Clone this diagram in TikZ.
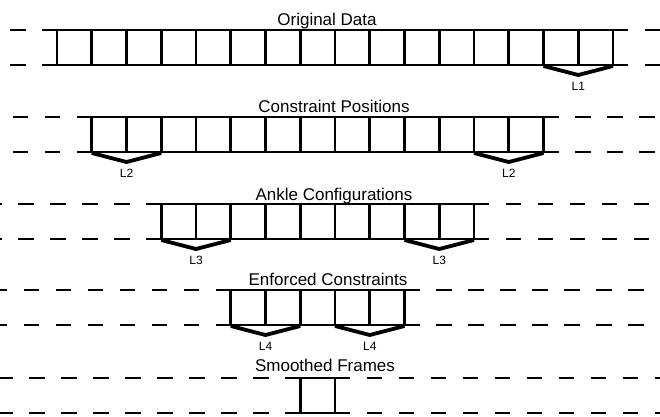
\documentclass[tikz,border=0pt]{standalone}
\usepackage{fontspec}
\setmainfont{Liberation Sans}
\newcommand\cellrow[4]{%
  \pgfmathsetmacro\xa{57+34.75*#2}%
  \pgfmathsetmacro\xb{57+34.75*#3}%
  \pgfmathsetmacro\yb{#1+35}%
  \coordinate (#4-tl) at (\xa-15,#1);
  \coordinate (#4-tr) at (\xb+15,#1);
  \coordinate (#4-bl) at (\xa-15,\yb);
  \coordinate (#4-br) at (\xb+15,\yb);
  \coordinate (#4-tlf) at (-20,#1);
  \coordinate (#4-trf) at (680,#1);
  \coordinate (#4-blf) at (-20,\yb);
  \coordinate (#4-brf) at (680,\yb);
  \draw[hline] (#4-tl) -- (#4-tr);
  \draw[hline] (#4-bl) -- (#4-br);
  \draw[dashline] (#4-tl) -- (#4-tlf);
  \draw[dashline] (#4-tr) -- (#4-trf);
  \draw[dashline] (#4-bl) -- (#4-blf);
  \draw[dashline] (#4-br) -- (#4-brf);
  \foreach \i in {#2,...,#3} \draw[vline] (57+34.75*\i,#1) -- (57+34.75*\i,\yb);
}
\newcommand\bracketlab[4]{%
  \draw[brace] (57+34.75*#2,#1+1) -- (57+34.75*#2+34.75,#1+10) -- (57+34.75*#2+69.5,#1+1);
  \node[lab] (#4) at (57+34.75*#2+34.75,#1+25.5) {#3};
}
\begin{document}
\begin{tikzpicture}[x=1pt,y=-1pt,
  hline/.style={line width=2.2pt},
  vline/.style={line width=2.8pt},
  dashline/.style={line width=2.2pt, dash pattern=on 15.5pt off 16.5pt, dash phase=15.5pt},
  brace/.style={line width=3.8pt},
  title/.style={font=\fontsize{17}{20}\selectfont, anchor=base, inner sep=0pt},
  lab/.style={font=\fontsize{12}{14}\selectfont, anchor=base, inner sep=0pt}]
\useasboundingbox (0,0) rectangle (660,416);
\clip (0,0) rectangle (660,416);
\fill[white] (0,0) rectangle (660,416);

\cellrow{30}{0}{16}{r1}
\cellrow{117}{1}{14}{r2}
\cellrow{204}{3}{12}{r3}
\cellrow{290}{5}{10}{r4}
\cellrow{378}{7}{8}{r5}

\bracketlab{65}{14}{L1}{l1}
\bracketlab{152}{1}{L2}{l2a}
\bracketlab{152}{12}{L2}{l2b}
\bracketlab{239}{3}{L3}{l3a}
\bracketlab{239}{10}{L3}{l3b}
\bracketlab{325}{5}{L4}{l4a}
\bracketlab{325}{8}{L4}{l4b}

\node[title] (t1) at (327,25) {Original Data};
\node[title] (t2) at (334,112) {Constraint Positions};
\node[title] (t3) at (334,200.5) {Ankle Configurations};
\node[title] (t4) at (328,285.5) {Enforced Constraints};
\node[title] (t5) at (325,371) {Smoothed Frames};
\end{tikzpicture}
\end{document}
